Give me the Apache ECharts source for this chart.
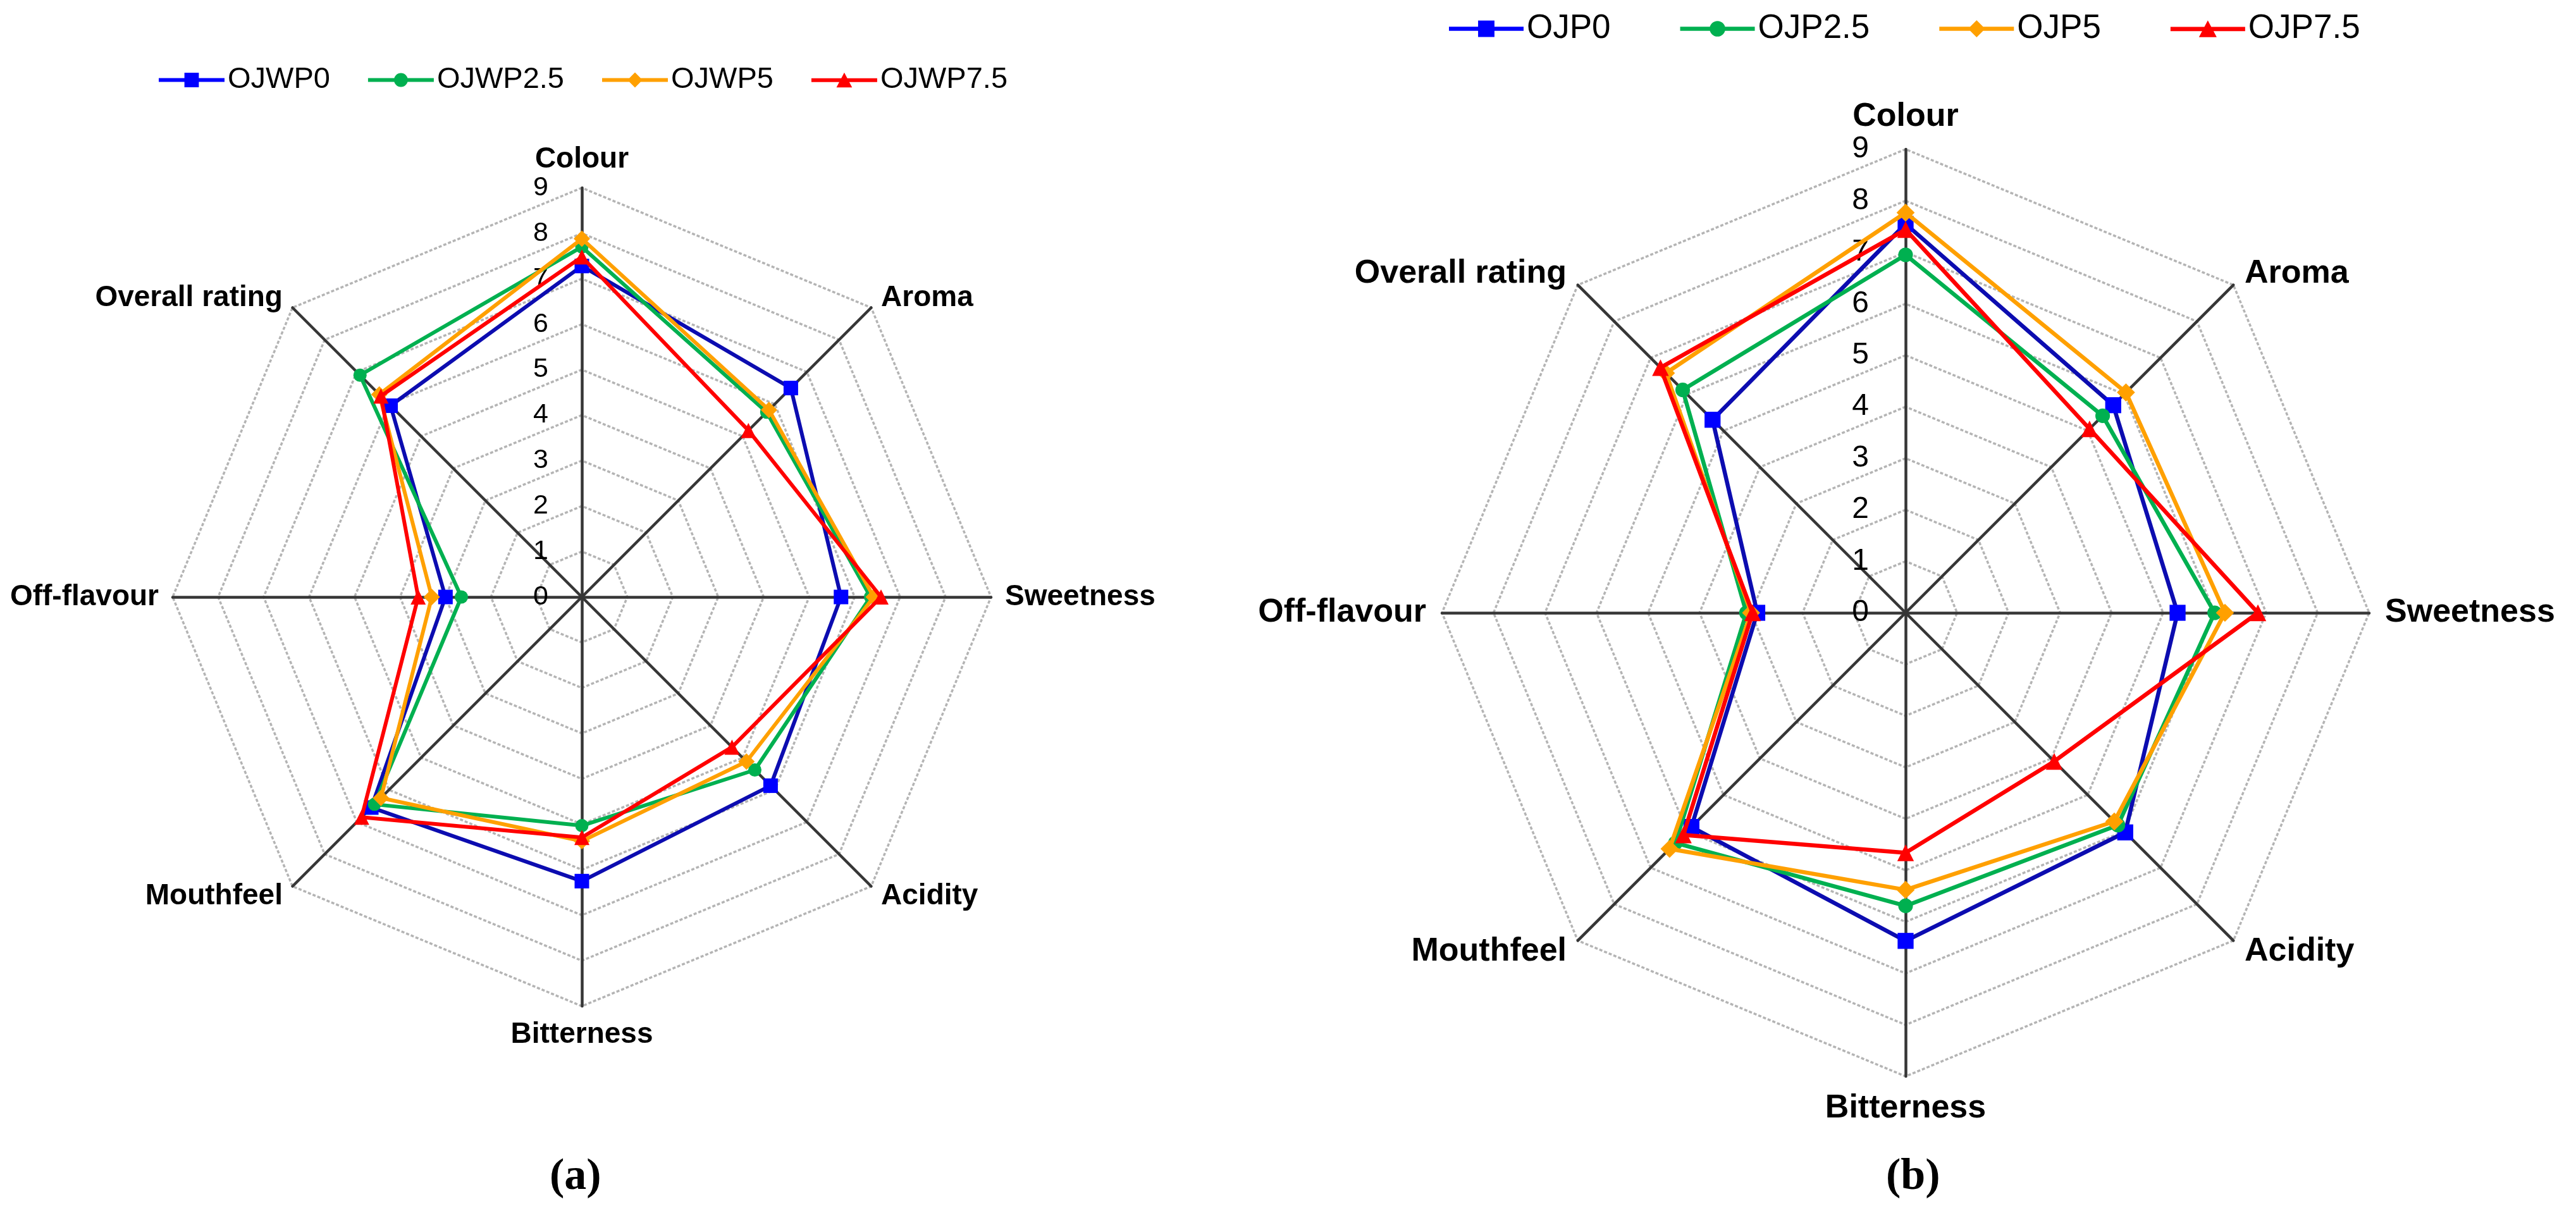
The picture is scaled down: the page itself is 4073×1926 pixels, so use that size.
<!DOCTYPE html>
<html>
<head>
<meta charset="utf-8">
<script src="https://cdn.jsdelivr.net/npm/echarts@6.0.0/dist/echarts.min.js"></script>
<style>
html,body{margin:0;padding:0;background:#ffffff;}
#chart{width:4073px;height:1926px;}
</style>
</head>
<body>
<div id="chart"></div>
<script>
// Indicators in drawing order (ECharts radar goes counter-clockwise from the top)
const categories = ['Colour', 'Overall rating', 'Off-flavour', 'Mouthfeel', 'Bitterness', 'Acidity', 'Sweetness', 'Aroma'];
const scoreMax = 9;

// (a) OJWP samples, values in categories order
const namesA = ['OJWP0', 'OJWP2.5', 'OJWP5', 'OJWP7.5'];
const OJWP0   = [7.28, 5.95, 3.00, 6.55, 6.25, 5.87, 5.70, 6.50];
const OJWP2_5 = [7.70, 6.90, 2.65, 6.45, 5.03, 5.38, 6.35, 5.75];
const OJWP5   = [7.88, 6.30, 3.30, 6.25, 5.37, 5.12, 6.42, 5.82];
const OJWP7_5 = [7.48, 6.25, 3.60, 6.85, 5.29, 4.67, 6.58, 5.18];

// (b) OJP samples, values in categories order
const namesB = ['OJP0', 'OJP2.5', 'OJP5', 'OJP7.5'];
const OJP0   = [7.55, 5.30, 2.88, 5.88, 6.37, 6.03, 5.28, 5.70];
const OJP2_5 = [6.95, 6.12, 3.09, 6.32, 5.69, 5.83, 6.00, 5.41];
const OJP5   = [7.77, 6.58, 3.00, 6.48, 5.38, 5.73, 6.20, 6.05];
const OJP7_5 = [7.44, 6.73, 2.97, 6.10, 4.66, 4.08, 6.84, 5.05];

const valuesA = [OJWP0, OJWP2_5, OJWP5, OJWP7_5];
const valuesB = [OJP0, OJP2_5, OJP5, OJP7_5];

const F = 'Liberation Sans, Arial, Helvetica, sans-serif';
const SERIF = 'Liberation Serif, Times New Roman, serif';

const looks = [
  {symbol: 'rect',     size: 23, marker: '#0000ff', line: '#0c0cb0',
   icon: 'path://M0,9L105,9L105,15L0,15Z M41,0.5L64,0.5L64,23.5L41,23.5Z'},
  {symbol: 'circle',   size: 21, marker: '#00b050', line: '#00b050',
   icon: 'path://M0,9L105,9L105,15L0,15Z M63.5,12A11,11 0 1,1 41.5,12A11,11 0 1,1 63.5,12Z'},
  {symbol: 'diamond',  size: 26, marker: '#ffa000', line: '#ffa000',
   icon: 'path://M0,9L105,9L105,15L0,15Z M52.5,0L64.5,12L52.5,24L40.5,12Z'},
  {symbol: 'triangle', size: 24, marker: '#ff0000', line: '#ff0000',
   icon: 'path://M0,9L105,9L105,15L0,15Z M52.5,0L65,23.5L40,23.5Z'}
];

function makeRadar(center, radius, nameSize, tickSize, tickMargin, nameGap) {
  return {
    center: center,
    radius: radius,
    startAngle: 90,
    splitNumber: 9,
    shape: 'polygon',
    nameGap: nameGap,
    indicator: categories.map(function (c, i) {
      const ind = {name: c, min: 0, max: scoreMax};
      if (i === 0) {
        ind.axisLabel = {show: true, fontSize: tickSize, color: '#000', fontFamily: F, margin: tickMargin};
      }
      return ind;
    }),
    axisName: {color: '#000', fontSize: nameSize, fontWeight: 'bold', fontFamily: F},
    axisLine: {show: true, lineStyle: {color: '#363636', width: 4.5}},
    splitLine: {show: true, lineStyle: {color: '#b4b4b4', width: 3.5, type: [5, 3]}},
    splitArea: {show: false},
    axisTick: {show: false},
    axisLabel: {show: false, fontSize: tickSize, color: '#000', fontFamily: F, margin: tickMargin}
  };
}

function makeSeries(names, values, radarIndex, lineW, scale) {
  return names.map(function (n, i) {
    const lk = looks[i];
    return {
      type: 'radar',
      name: n,
      radarIndex: radarIndex,
      symbol: lk.symbol,
      symbolSize: lk.size * scale,
      itemStyle: {color: lk.marker, borderWidth: 0},
      lineStyle: {color: lk.line, width: lineW},
      z: 2 + i,
      data: [{name: n, value: values[i]}]
    };
  });
}

function makeLegend(names, left, top, w, h, gap, fontSize) {
  return {
    left: left, top: top,
    orient: 'horizontal',
    itemWidth: w, itemHeight: h, itemGap: gap,
    selectedMode: false,
    itemStyle: {borderWidth: 0},
    textStyle: {fontSize: fontSize, color: '#000', fontFamily: F},
    data: names.map(function (n, i) { return {name: n, icon: looks[i].icon}; })
  };
}

const chart = echarts.init(document.getElementById('chart'), null, {renderer: 'canvas'});
chart.setOption({
  backgroundColor: '#ffffff',
  animation: false,
  title: [
    {text: '{p|(}{b|a}{p|)}', left: 864, top: 1822,
     textStyle: {rich: {p: {fontFamily: SERIF, fontSize: 70, color: '#000'},
                        b: {fontFamily: SERIF, fontSize: 70, fontWeight: 'bold', color: '#000'}}}},
    {text: '{p|(}{b|b}{p|)}', left: 2977, top: 1822,
     textStyle: {rich: {p: {fontFamily: SERIF, fontSize: 70, color: '#000'},
                        b: {fontFamily: SERIF, fontSize: 70, fontWeight: 'bold', color: '#000'}}}}
  ],
  legend: [
    makeLegend(namesA, 246, 98, 104, 24, 60, 47),
    makeLegend(namesB, 2286, 14, 118, 27, 110, 53)
  ],
  radar: [
    makeRadar([920, 944], 647, 46, 43, 53, 22),
    makeRadar([3013, 969], 733, 52, 48, 58, 25)
  ],
  series: makeSeries(namesA, valuesA, 0, 6, 1).concat(makeSeries(namesB, valuesB, 1, 6.5, 1.1))
});
</script>
</body>
</html>
